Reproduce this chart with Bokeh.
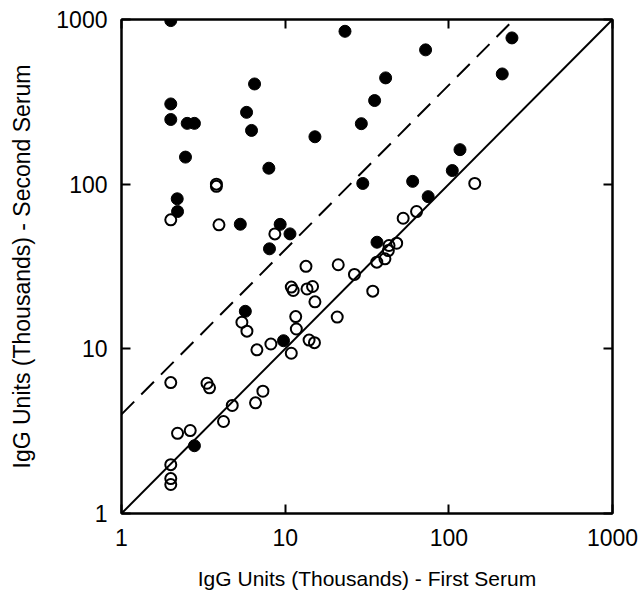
from bokeh.plotting import figure
from bokeh.models import LogAxis, FixedTicker, PrintfTickFormatter
from bokeh.embed import file_html
from bokeh.resources import INLINE

# Open circles (x = first serum, y = second serum), thousands of IgG units
open_x = [3.8, 3.8, 2.0, 3.94, 8.65, 13.4, 10.9, 11.2, 13.6, 14.7, 5.44, 5.84, 11.6, 11.7,
          8.18, 6.72, 10.9, 2.0, 3.33, 3.45, 4.75, 4.2, 6.59, 7.31, 2.2, 2.63, 2.0, 2.0, 2.0,
          144, 63.5, 52.6, 48.0, 43.1, 42.7, 40.7, 36.3, 26.5, 34.3, 21.1, 15.2, 20.8, 14.0, 15.1]
open_y = [100, 97, 60.7, 56.6, 49.9, 31.7, 23.7, 22.6, 23.1, 23.9, 14.5, 12.8, 15.7, 13.2,
          10.7, 9.86, 9.4, 6.24, 6.18, 5.8, 4.53, 3.62, 4.7, 5.53, 3.07, 3.19, 1.98, 1.63, 1.5,
          101, 68.2, 62.1, 43.8, 42.4, 39.5, 35.2, 33.6, 28.3, 22.4, 32.4, 19.3, 15.6, 11.3, 10.9]

# Filled circles
fill_x = [2.0, 6.5, 2.0, 5.81, 2.0, 2.52, 2.79, 6.23, 2.46, 7.95, 2.19, 2.2, 5.32, 9.32,
          10.7, 8.02, 5.71, 9.77, 2.79, 23.2, 72.1, 41.1, 35.2, 29.2, 15.2, 117, 105, 29.8,
          60.1, 74.8, 243, 212, 36.4]
fill_y = [985, 406, 307, 273, 247, 234, 234, 212, 146, 125, 81.5, 68.2, 57.1, 57.0,
          49.9, 40.5, 16.9, 11.2, 2.58, 848, 654, 442, 322, 233, 194, 162, 121, 101,
          104, 84, 773, 467, 44.4]

# Reference lines: identity and fourfold rise
line_x = [1, 1000]
fold_rise = 4

ticks = [1, 10, 100, 1000]

p = figure(width=640, height=592, x_axis_type="log", y_axis_type="log",
           x_range=(1, 1000), y_range=(1, 1000),
           output_backend="svg", toolbar_location=None,
           min_border_left=121, min_border_right=28, min_border_top=19, min_border_bottom=79)

p.grid.visible = False
p.outline_line_color = "black"
p.outline_line_width = 2

p.line(line_x, line_x, line_color="black", line_width=2)
dash_x = [1, 1000 / fold_rise]
p.line(dash_x, [v * fold_rise for v in dash_x], line_color="black", line_width=2, line_dash="18 10")

p.scatter(open_x, open_y, marker="circle", size=11, fill_alpha=0, line_color="black", line_width=2)
p.scatter(fill_x, fill_y, marker="circle", size=12, fill_color="black", line_color="black")

font = "Liberation Sans"
for ax in [p.xaxis[0], p.yaxis[0]]:
    ax.ticker = FixedTicker(ticks=ticks)
    ax.formatter = PrintfTickFormatter(format="%d")
    ax.major_tick_in = 9
    ax.major_tick_out = 0
    ax.minor_tick_in = 0
    ax.minor_tick_out = 0
    ax.axis_line_width = 2
    ax.major_tick_line_width = 2
    ax.major_label_text_font = font
    ax.major_label_text_font_size = "23px"
    ax.major_label_text_color = "black"
    ax.axis_label_text_font = font
    ax.axis_label_text_font_style = "normal"
    ax.axis_label_text_color = "black"

p.xaxis[0].axis_label = "IgG Units (Thousands) - First Serum"
p.yaxis[0].axis_label = "IgG Units (Thousands) - Second Serum"
p.xaxis[0].axis_label_text_font_size = "21px"
p.yaxis[0].axis_label_text_font_size = "23px"
p.xaxis[0].major_label_standoff = 15
p.xaxis[0].axis_label_standoff = 18
p.yaxis[0].major_label_standoff = 14
p.yaxis[0].axis_label_standoff = 18

def side_axis():
    return LogAxis(ticker=FixedTicker(ticks=ticks), major_tick_in=9, major_tick_out=0,
                   minor_tick_in=0, minor_tick_out=0, major_label_text_font_size="2px",
                   major_label_text_color=None, axis_line_width=2, major_tick_line_width=2,
                   major_label_standoff=0)

p.add_layout(side_axis(), "above")
p.add_layout(side_axis(), "right")

open("out.html", "w").write(file_html(p, INLINE))
